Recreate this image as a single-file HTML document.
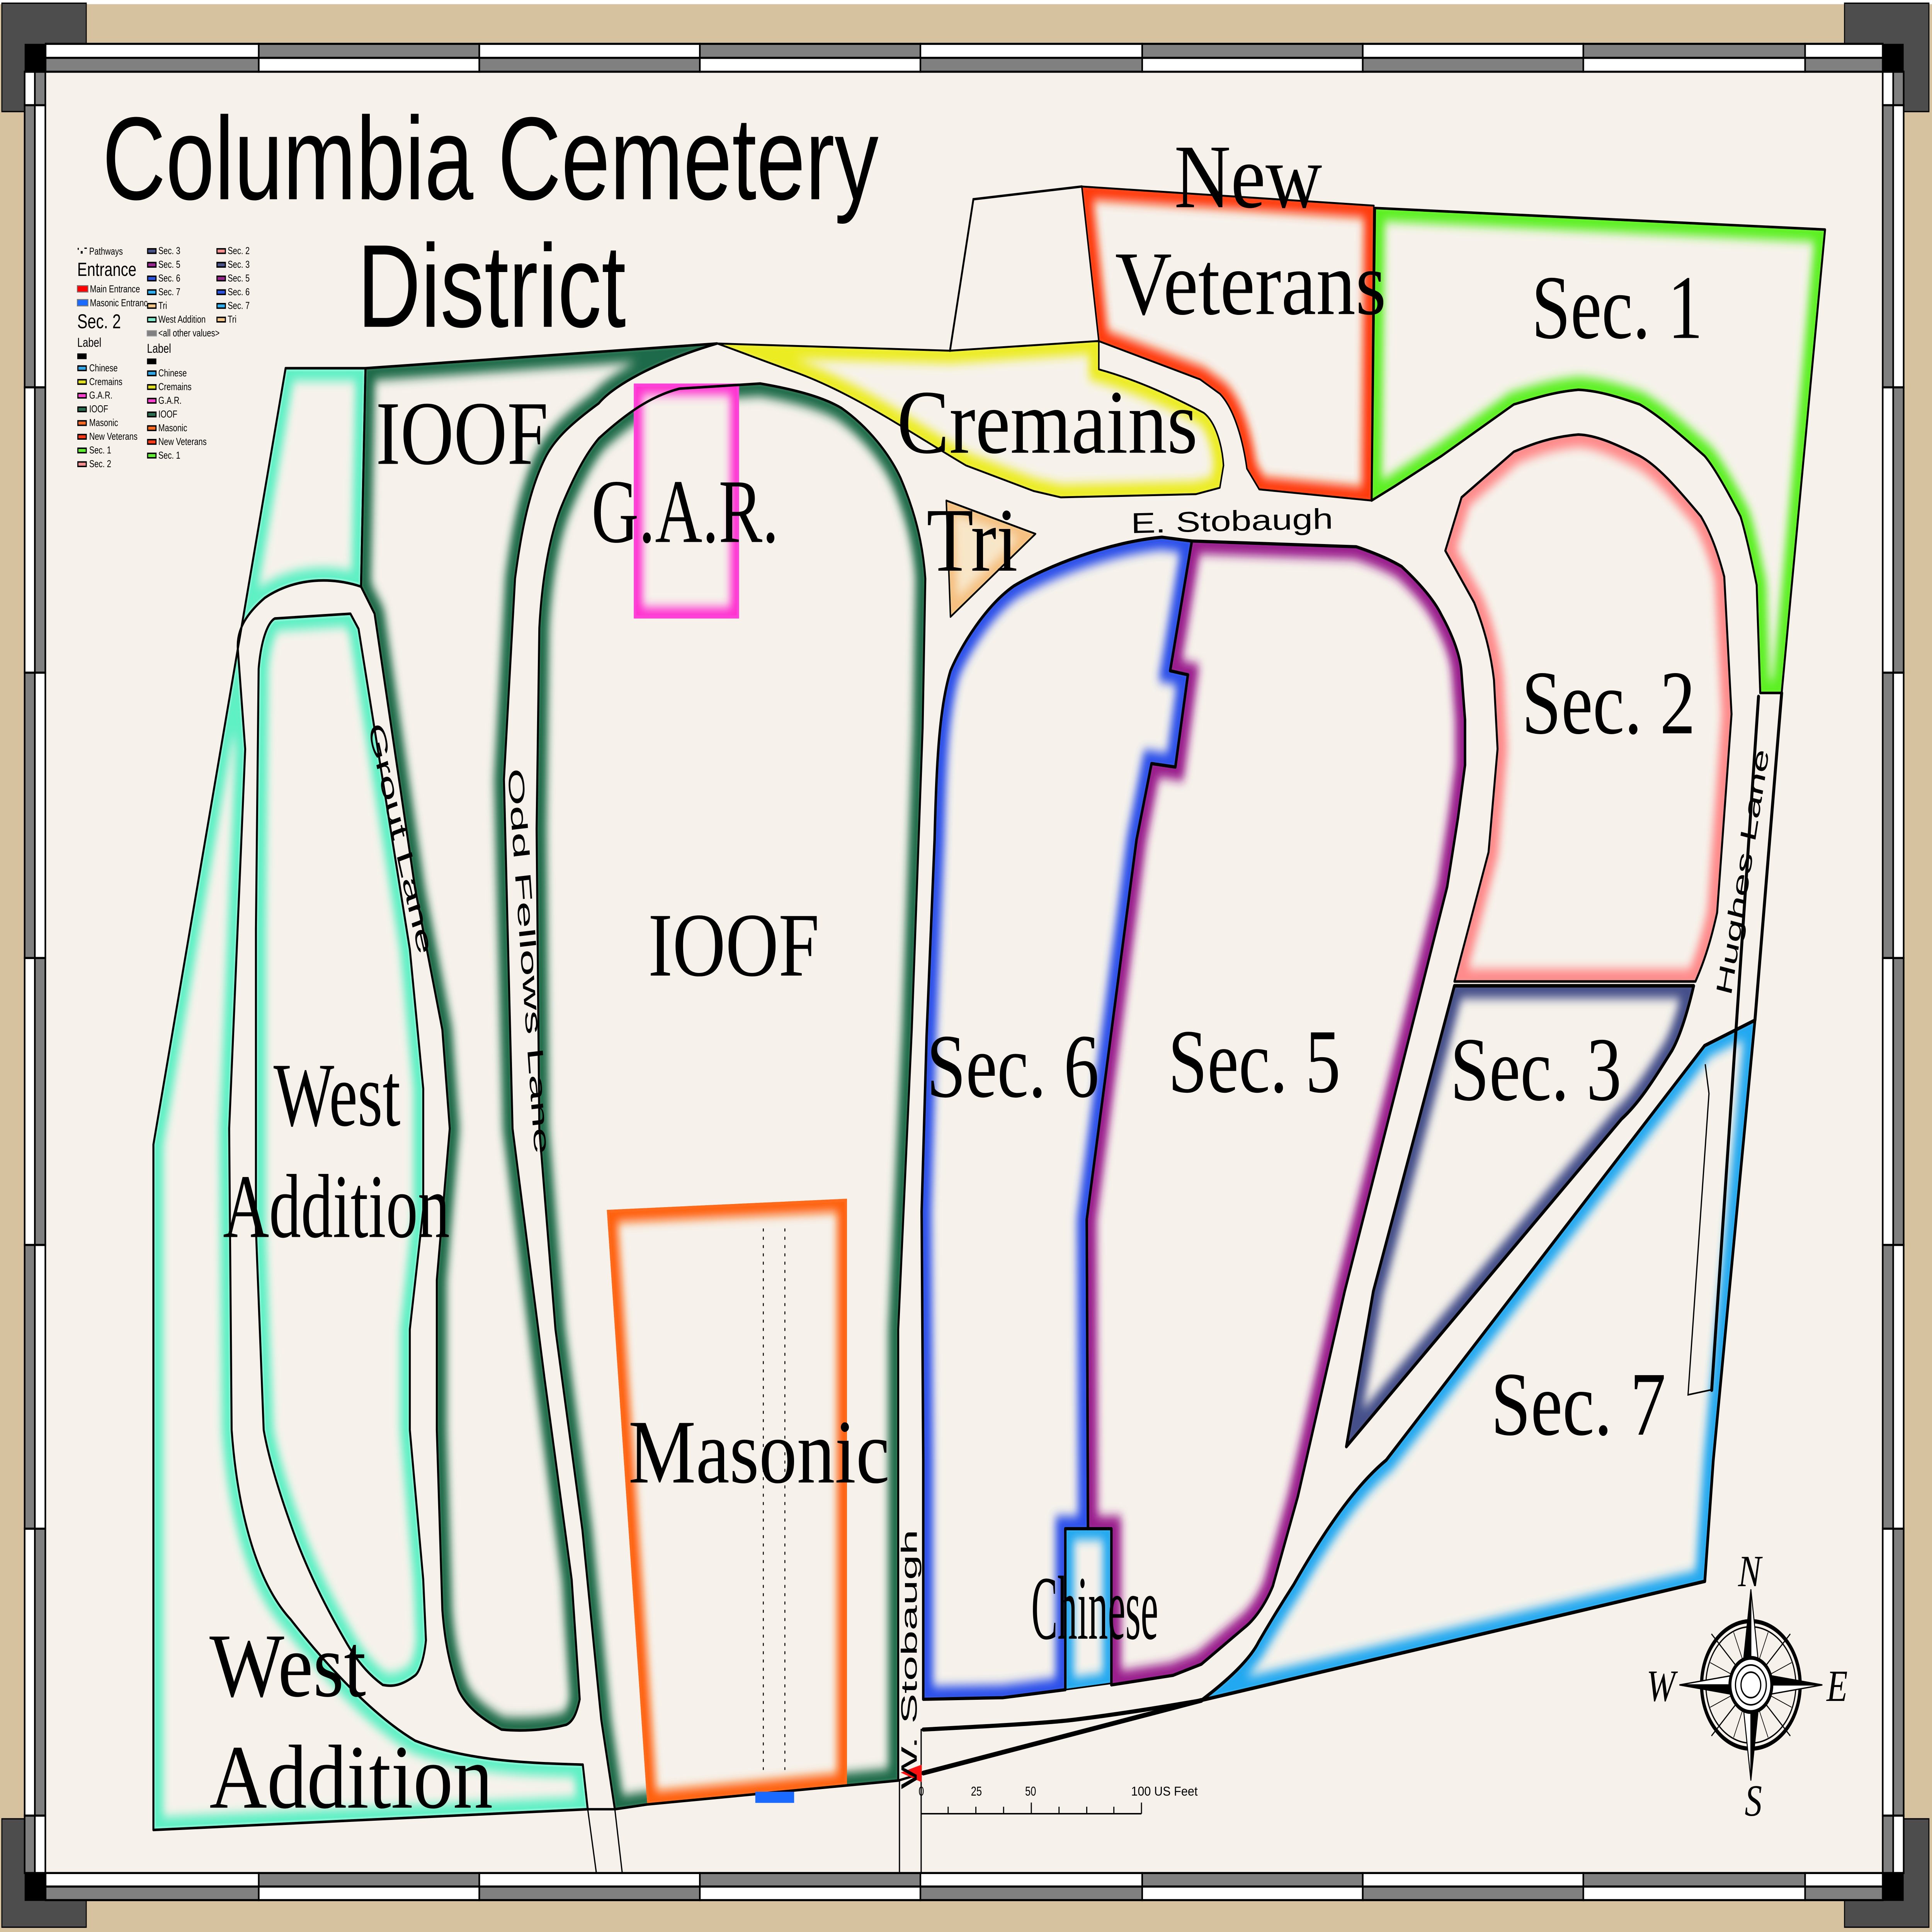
<!DOCTYPE html>
<html><head><meta charset="utf-8"><style>
html,body{margin:0;padding:0;background:#d7c29f;width:100%;height:100%;overflow:hidden;}
svg{display:block;width:100vw;height:100vh;}
.sf{font-family:"Liberation Serif",serif;}
.ss{font-family:"Liberation Sans",sans-serif;}
</style></head><body>
<svg xmlns="http://www.w3.org/2000/svg" xmlns:xlink="http://www.w3.org/1999/xlink" viewBox="0 0 1568 1212" preserveAspectRatio="none">
<defs>
<filter id="b" x="-20%" y="-20%" width="140%" height="140%"><feGaussianBlur stdDeviation="3.2"/></filter>
<path id="pWA" d="M231.8,231 L296.6,231 L293,368 C270,362 240,362 215,375 C200,385 192,395 193,407 L199,470 L186,708 L188,897 C192,940 205,990 236,1016 C260,1040 300,1075 337,1092 C380,1105 430,1106 473,1107 L477,1135 L124.5,1148 L124.5,718 Z"/>
<path id="pWI" d="M209.9,419.6 C212,400 218,390 223,388 L284.4,385 L291,394.5 L332.6,595.5 L343.5,683 L343.5,759 L332.6,834 L332.6,897 L343.5,991 L345.7,1029 C344,1042 340,1049 337,1051 C325,1058 318,1058 310.7,1057 C298,1050 288,1040 280,1029 C262,1005 250,985 240.5,966 C228,940 218,915 214,897 L207.7,771 L207.7,583 Z"/>
<path id="pIB" d="M296.6,231 L582,215.5 C540,225 500,240 486,253 C465,265 450,275 442,288 C428,310 422,340 418,363 L409,489 L416,708 L442,865 L464,991 L470.5,1066 C468,1075 465,1080 459.6,1082 C440,1086 420,1086 407,1085 C390,1078 378,1070 372,1060 C365,1045 361,1030 359,1010 L354.5,897 L354.5,803 L365,708 L359,646 L337,558 L304,385 L293,368 Z"/>
<path id="pIC" d="M437.7,394 C440,360 447,335 455,319 C465,300 475,285 486,275 C510,258 530,248 551.6,243.8 L617,240.6 C650,245 670,250 683,256 C705,268 722,285 731,300 C742,320 749,340 751,363 L748.8,457 L740,646 L729,834 L729,1117 L525,1132 L499,1135 L488,1079 L472.7,960 L450.8,834 L437.7,708 L435.5,520 Z"/>
<path id="pGAR" d="M514.4,240.6 L599.8,240.6 L599.8,388 L514.4,388 Z"/>
<path id="pMas" d="M492.5,759 L687.4,752 L687.4,1120 L525.3,1132 Z"/>
<path id="pCre" d="M582,215.5 L771,220 L891.8,213.9 L891.8,231.7 C925,238.8 955,250 977,259 C987,265 992,280 993,292 L990,306 L970.6,310 L861,312 L838.8,308 L784,292 C740,272 690,245 640,232 C615,225 595,219 582,215.5 Z"/>
<path id="pTri" d="M768,314 L840.4,334.9 L771.4,387 Z"/>
<path id="pNV" d="M878,117 L1115,129 L1113,314 L1022,307 L1012,294 C1008,272 1000,255 990,247 L974,238 L891.8,214 Z"/>
<path id="pS1" d="M1116,130.5 L1481.2,144 L1446,434.7 L1428.6,434.7 L1425.7,367 C1420,345 1415,330 1412.6,324 C1400,305 1390,292 1383.4,286 C1360,270 1345,260 1330.8,253.7 C1310,248 1295,245 1281,244.5 C1260,246 1245,250 1228.6,253.7 L1170,286 L1132,305 L1113.2,314 Z"/>
<path id="pS2" d="M1186.2,312 L1173,345.5 L1196.4,378 C1205,395 1210,410 1212.5,426.6 L1215.4,469.8 L1208.1,534.6 L1180.4,615.7 L1376,615.7 C1385,600 1390,585 1393.6,572.5 L1405.3,448 L1399.4,361.8 C1392,340 1385,330 1380.5,324 C1360,305 1345,292 1330.8,286 C1310,278 1295,273 1281,272.6 C1260,274 1245,278 1228.6,283.4 Z"/>
<path id="pS3" d="M1180.4,618.4 L1374.6,618.4 C1368,640 1362,652 1357,659 C1340,680 1330,692 1316,702 L1092.7,907.5 L1114.6,810 Z"/>
<path id="pS7" d="M1383.4,656 L1424.3,640 L1390.5,916 L1383.6,992 L975,1066.7 C1000,1052 1015,1040 1021.5,1030 C1035,1012 1045,1000 1050,994 C1075,960 1100,932 1125,916 Z"/>
<path id="pS6" d="M967.3,339.4 L943,337 C900,340 850,355 822.8,367.6 C800,380 780,405 771.4,420.8 C762,445 760,480 758.5,526.8 L752,650 L748,760 L749.3,916 L749.3,1066 L814,1065 L864.6,1060 L864.6,959 L883,959 L882,765 L922.4,526.8 L934.6,479 L953.9,481.2 L964.1,423.3 L949.7,420.8 Z"/>
<path id="pS5" d="M967.3,339.4 L1100.7,343 C1120,348 1130,352 1137.6,355.4 C1155,368 1165,378 1170,386 C1180,400 1185,412 1186,420.8 L1189,451.5 L1189,480 L1183.3,513 L1174.5,556.3 L1132.2,686 L1091.3,810.2 L1053.3,938.8 L1033,995 C1025,1010 1015,1018 1010,1021 L975,1044 L952,1051 L902,1057 L902,959 L883,959 L882,765 L922.4,526.8 L934.6,479 L953.9,481.2 L964.1,423.3 L949.7,420.8 Z"/>
<path id="pCh" d="M864.6,959 L902,959 L902,1056 L864.6,1060 Z"/>
<clipPath id="cWA"><use xlink:href="#pWA"/></clipPath>
<clipPath id="cWI"><use xlink:href="#pWI"/></clipPath>
<clipPath id="cIB"><use xlink:href="#pIB"/></clipPath>
<clipPath id="cIC"><use xlink:href="#pIC"/></clipPath>
<clipPath id="cGAR"><use xlink:href="#pGAR"/></clipPath>
<clipPath id="cMas"><use xlink:href="#pMas"/></clipPath>
<clipPath id="cCre"><use xlink:href="#pCre"/></clipPath>
<clipPath id="cTri"><use xlink:href="#pTri"/></clipPath>
<clipPath id="cNV"><use xlink:href="#pNV"/></clipPath>
<clipPath id="cS1"><use xlink:href="#pS1"/></clipPath>
<clipPath id="cS2"><use xlink:href="#pS2"/></clipPath>
<clipPath id="cS3"><use xlink:href="#pS3"/></clipPath>
<clipPath id="cS7"><use xlink:href="#pS7"/></clipPath>
<clipPath id="cS6"><use xlink:href="#pS6"/></clipPath>
<clipPath id="cS5"><use xlink:href="#pS5"/></clipPath>
<clipPath id="cCh"><use xlink:href="#pCh"/></clipPath>
</defs>

<rect x="0" y="0" width="1568" height="1212" fill="#d7c29f"/>
<rect x="0" y="0" width="1568" height="2.6" fill="#ffffff"/>
<g fill="#4d4d4d" stroke="#000" stroke-width="0.8">
<rect x="1.5" y="2" width="68.5" height="68"/>
<rect x="1497" y="2" width="68.5" height="68"/>
<rect x="1.5" y="1141" width="68.5" height="68"/>
<rect x="1497" y="1141" width="68.5" height="68"/>
</g>
<rect x="36.8" y="45" width="1491.5" height="1130" fill="#f6f2eb"/>

<g>
<use xlink:href="#pWA" fill="#f6f2eb"/>
<g clip-path="url(#cWA)"><use xlink:href="#pWA" fill="none" stroke="#5ef0c4" stroke-width="16" filter="url(#b)"/><use xlink:href="#pWA" fill="none" stroke="#7ff5d4" stroke-width="4"/></g>
<use xlink:href="#pWI" fill="#f6f2eb"/>
<g clip-path="url(#cWI)"><use xlink:href="#pWI" fill="none" stroke="#5ef0c4" stroke-width="16" filter="url(#b)"/><use xlink:href="#pWI" fill="none" stroke="#7ff5d4" stroke-width="4"/></g>
<use xlink:href="#pIB" fill="#f6f2eb"/>
<g clip-path="url(#cIB)"><use xlink:href="#pIB" fill="none" stroke="#1f6a48" stroke-width="16" filter="url(#b)"/><use xlink:href="#pIB" fill="none" stroke="#2a7452" stroke-width="4"/></g>
<use xlink:href="#pIC" fill="#f6f2eb"/>
<g clip-path="url(#cIC)"><use xlink:href="#pIC" fill="none" stroke="#1f6a48" stroke-width="16" filter="url(#b)"/><use xlink:href="#pIC" fill="none" stroke="#2a7452" stroke-width="4"/></g>
<use xlink:href="#pGAR" fill="#f6f2eb"/>
<g clip-path="url(#cGAR)"><use xlink:href="#pGAR" fill="none" stroke="#ff30d0" stroke-width="14" filter="url(#b)"/><use xlink:href="#pGAR" fill="none" stroke="#ff40d8" stroke-width="4"/></g>
<use xlink:href="#pMas" fill="#f6f2eb"/>
<g clip-path="url(#cMas)"><use xlink:href="#pMas" fill="none" stroke="#ff6010" stroke-width="16" filter="url(#b)"/><use xlink:href="#pMas" fill="none" stroke="#ff6a1a" stroke-width="4"/></g>
<use xlink:href="#pCre" fill="#f6f2eb"/>
<g clip-path="url(#cCre)"><use xlink:href="#pCre" fill="none" stroke="#ecec20" stroke-width="16" filter="url(#b)"/><use xlink:href="#pCre" fill="none" stroke="#eeee30" stroke-width="4"/></g>
<use xlink:href="#pTri" fill="#f8e6c8"/>
<g clip-path="url(#cTri)"><use xlink:href="#pTri" fill="none" stroke="#f5c080" stroke-width="12" filter="url(#b)"/><use xlink:href="#pTri" fill="none" stroke="#f5c888" stroke-width="3"/></g>
<use xlink:href="#pNV" fill="#f6f2eb"/>
<g clip-path="url(#cNV)"><use xlink:href="#pNV" fill="none" stroke="#ff3a10" stroke-width="16" filter="url(#b)"/><use xlink:href="#pNV" fill="none" stroke="#ff4418" stroke-width="4"/></g>
<use xlink:href="#pS1" fill="#f6f2eb"/>
<g clip-path="url(#cS1)"><use xlink:href="#pS1" fill="none" stroke="#5cf020" stroke-width="16" filter="url(#b)"/><use xlink:href="#pS1" fill="none" stroke="#66f22a" stroke-width="4"/></g>
<use xlink:href="#pS2" fill="#f6f2eb"/>
<g clip-path="url(#cS2)"><use xlink:href="#pS2" fill="none" stroke="#ff8a8a" stroke-width="16" filter="url(#b)"/><use xlink:href="#pS2" fill="none" stroke="#f89090" stroke-width="4"/></g>
<use xlink:href="#pS3" fill="#f6f2eb"/>
<g clip-path="url(#cS3)"><use xlink:href="#pS3" fill="none" stroke="#45508a" stroke-width="16" filter="url(#b)"/><use xlink:href="#pS3" fill="none" stroke="#4a5488" stroke-width="4"/></g>
<use xlink:href="#pS7" fill="#f6f2eb"/>
<g clip-path="url(#cS7)"><use xlink:href="#pS7" fill="none" stroke="#20a8f0" stroke-width="16" filter="url(#b)"/><use xlink:href="#pS7" fill="none" stroke="#30b0f0" stroke-width="4"/></g>
<use xlink:href="#pS6" fill="#f6f2eb"/>
<g clip-path="url(#cS6)"><use xlink:href="#pS6" fill="none" stroke="#2a50ea" stroke-width="16" filter="url(#b)"/><use xlink:href="#pS6" fill="none" stroke="#3358e8" stroke-width="4"/></g>
<use xlink:href="#pS5" fill="#f6f2eb"/>
<g clip-path="url(#cS5)"><use xlink:href="#pS5" fill="none" stroke="#9a1c8c" stroke-width="16" filter="url(#b)"/><use xlink:href="#pS5" fill="none" stroke="#9a2490" stroke-width="4"/></g>
<use xlink:href="#pCh" fill="#f6f2eb"/>
<g clip-path="url(#cCh)"><use xlink:href="#pCh" fill="none" stroke="#20a8f0" stroke-width="14" filter="url(#b)"/><use xlink:href="#pCh" fill="none" stroke="#30b0f0" stroke-width="4"/></g>
</g>
<g fill="none" stroke="#000" stroke-width="1.6" stroke-linejoin="round">
<use xlink:href="#pWA"/><use xlink:href="#pWI"/><use xlink:href="#pIB"/><use xlink:href="#pIC"/>
<use xlink:href="#pCre" stroke-width="1.2"/><use xlink:href="#pTri" stroke-width="1.2"/><use xlink:href="#pNV" stroke-width="1.2"/>
<use xlink:href="#pS1"/><use xlink:href="#pS2"/><use xlink:href="#pS3" stroke-width="2.2"/>
<use xlink:href="#pS7" stroke-width="2.2"/><use xlink:href="#pS6" stroke-width="2"/><use xlink:href="#pS5" stroke-width="2"/><use xlink:href="#pCh" stroke-width="1"/>
</g>
<g fill="none" stroke="#000" stroke-linecap="round">
<path d="M1427.2,437 L1389.2,872" stroke-width="2.4"/>
<path d="M1446,434.7 L1424.3,640" stroke-width="2.4"/>
<path d="M1384,668 L1387,686 L1370,875 L1388,872" stroke-width="1"/>
<path d="M771,220 L790,125 L878,117" stroke-width="1.5"/>
<path d="M749.3,1085 C800,1083 848,1081 870,1079 C912,1075 950,1070 975,1066.7" stroke-width="2.6"/>
<path d="M749.3,1112.3 L975,1066.7" stroke-width="3"/>
<path d="M477,1135 L499,1135 M729,1117 L749.3,1112.3" stroke-width="1.5"/>
<path d="M477,1135 L484,1175 M499,1135 L505,1175" stroke-width="1"/>
<path d="M730,1117 L730,1175 M747.6,1085 L747.6,1175" stroke-width="1"/>
<path d="M619.5,771 L619.5,1110 M637,771 L637,1110" stroke-width="0.8" stroke-dasharray="1.2 4"/>
</g>
<polygon points="731,1112 748,1107 748,1118" fill="#ff1010"/>
<rect x="613" y="1124" width="31.5" height="7" fill="#1a6aff"/>

<g stroke="#000" stroke-width="0.9" fill="none">
<path d="M747.6,1137.8 L926.4,1137.8"/>
<path d="M769.5,1133.4V1137.8 M792,1133.4V1137.8 M814.5,1133.4V1137.8 M837,1130.8V1137.8 M859.5,1133.4V1137.8 M882,1133.4V1137.8 M904,1133.4V1137.8 M926.4,1130.8V1137.8"/>
</g>
<g class="ss" font-size="8" fill="#000">
<text x="745.5" y="1126.4">0</text>
<text x="788" y="1126.4">25</text>
<text x="832" y="1126.4">50</text>
<text x="918" y="1126.4" textLength="54" lengthAdjust="spacingAndGlyphs">100 US Feet</text>
</g>

<g transform="translate(1421,1057)">
<circle r="40" fill="none" stroke="#000" stroke-width="2.6"/>
<circle r="36.5" fill="none" stroke="#000" stroke-width="0.9"/>
<g stroke="#000" stroke-width="0.5">
<path d="M0,-36 L0,36 M-36,0 L36,0 M-25,-25 L25,25 M25,-25 L-25,25 M-14,-33 L14,33 M14,-33 L-14,33 M-33,-14 L33,14 M33,-14 L-33,14"/>
</g>
<g stroke="#000" stroke-width="0.8">
<polygon points="0,0 -6,-6 -32,-32" fill="#000"/><polygon points="0,0 6,-6 32,-32" fill="#fff"/>
<polygon points="0,0 6,6 32,32" fill="#000"/><polygon points="0,0 -6,6 -32,32" fill="#fff"/>
<polygon points="0,0 -8,0 0,-60" fill="#000"/><polygon points="0,0 8,0 0,-60" fill="#fff"/>
<polygon points="0,0 8,0 0,60" fill="#000"/><polygon points="0,0 -8,0 0,60" fill="#fff"/>
<polygon points="0,0 0,-8 58,0" fill="#000"/><polygon points="0,0 0,8 58,0" fill="#fff"/>
<polygon points="0,0 0,8 -58,0" fill="#000"/><polygon points="0,0 0,-8 -58,0" fill="#fff"/>
</g>
<circle r="17" fill="#fff" stroke="#000" stroke-width="2.4"/>
<circle r="12.5" fill="#fff" stroke="#000" stroke-width="1"/>
<circle r="8" fill="#fff" stroke="#000" stroke-width="1"/>
<g class="sf" font-style="italic" font-size="28" fill="#000" text-anchor="middle">
<text x="-1" y="-62">N</text>
<text x="2" y="82">S</text>
<text x="-73" y="10">W</text>
<text x="70" y="10">E</text>
</g>
</g>

<g class="ss" fill="#000">
<text x="83" y="125" font-size="74" textLength="630" lengthAdjust="spacingAndGlyphs">Columbia Cemetery</text>
<text x="290" y="205" font-size="74" textLength="218" lengthAdjust="spacingAndGlyphs">District</text>
</g>

<g class="sf" fill="#000" font-size="57">
<text x="953" y="130" textLength="120" lengthAdjust="spacingAndGlyphs">New</text>
<text x="905" y="197" textLength="220" lengthAdjust="spacingAndGlyphs">Veterans</text>
<text x="1243" y="212" textLength="139" lengthAdjust="spacingAndGlyphs">Sec. 1</text>
<text x="728" y="284" textLength="244" lengthAdjust="spacingAndGlyphs">Cremains</text>
<text x="305" y="291" textLength="140" lengthAdjust="spacingAndGlyphs">IOOF</text>
<text x="480" y="340" textLength="152" lengthAdjust="spacingAndGlyphs">G.A.R.</text>
<text x="752" y="358" textLength="74" lengthAdjust="spacingAndGlyphs">Tri</text>
<text x="1235" y="460" textLength="141" lengthAdjust="spacingAndGlyphs">Sec. 2</text>
<text x="526" y="612" textLength="139" lengthAdjust="spacingAndGlyphs">IOOF</text>
<text x="752" y="688" textLength="140" lengthAdjust="spacingAndGlyphs">Sec. 6</text>
<text x="948" y="685" textLength="140" lengthAdjust="spacingAndGlyphs">Sec. 5</text>
<text x="1177" y="690" textLength="139" lengthAdjust="spacingAndGlyphs">Sec. 3</text>
<text x="222" y="706" textLength="103" lengthAdjust="spacingAndGlyphs">West</text>
<text x="181" y="776" textLength="184" lengthAdjust="spacingAndGlyphs">Addition</text>
<text x="510" y="930" textLength="212" lengthAdjust="spacingAndGlyphs">Masonic</text>
<text x="1210" y="900" textLength="142" lengthAdjust="spacingAndGlyphs">Sec. 7</text>
<text x="837" y="1028" textLength="103" lengthAdjust="spacingAndGlyphs">Chinese</text>
<text x="170" y="1064" textLength="127" lengthAdjust="spacingAndGlyphs">West</text>
<text x="170" y="1134" textLength="230" lengthAdjust="spacingAndGlyphs">Addition</text>
</g>
<g class="ss" fill="#000" font-size="18" text-anchor="middle">
<text x="1000" y="333" textLength="164" lengthAdjust="spacingAndGlyphs" transform="rotate(-1 1000 333)">E. Stobaugh</text>
<text x="0" y="6" textLength="243" lengthAdjust="spacingAndGlyphs" transform="translate(429,603) rotate(84.8)">Odd Fellows Lane</text>
<text x="0" y="6" textLength="150" lengthAdjust="spacingAndGlyphs" transform="translate(325,526) rotate(73.9)">Grout Lane</text>
<text x="0" y="6" textLength="157" lengthAdjust="spacingAndGlyphs" transform="translate(1414.5,547) rotate(-78.6)">Hughes Lane</text>
<text x="0" y="6" textLength="163" lengthAdjust="spacingAndGlyphs" transform="translate(738,1041) rotate(-90)">W. Stobaugh</text>
</g>

<g class="ss" fill="#000" font-size="6.3">
<rect x="63" y="155.5" width="1" height="1.2"/><rect x="65.5" y="157.5" width="1.6" height="1.6"/><rect x="68.5" y="155.3" width="2" height="0.8"/>
<text x="72.4" y="159.8">Pathways</text>
<text x="62.7" y="173.1" font-size="12">Entrance</text>
<rect x="62.7" y="179.2" width="8.7" height="4" fill="#ff0000" stroke="#777" stroke-width="0.6"/><text x="73" y="183.4">Main Entrance</text>
<rect x="62.7" y="187.9" width="8.7" height="4" fill="#1a6aff" stroke="#777" stroke-width="0.6"/><text x="73" y="192.1">Masonic Entranc</text>
<text x="62.7" y="205.9" font-size="12.5">Sec. 2</text>
<text x="62.7" y="217.6" font-size="8">Label</text>
<rect x="62.7" y="221.7" width="7.6" height="3.6"/>
<g stroke="#000" stroke-width="0.9">
<rect x="63.2" y="229.6" width="6.8" height="2.8" fill="#30a8e8"/>
<rect x="63.2" y="238.2" width="6.8" height="2.8" fill="#e0e020"/>
<rect x="63.2" y="246.8" width="6.8" height="2.8" fill="#ff40d0"/>
<rect x="63.2" y="255.4" width="6.8" height="2.8" fill="#2a7050"/>
<rect x="63.2" y="264" width="6.8" height="2.8" fill="#ff6a20"/>
<rect x="63.2" y="272.6" width="6.8" height="2.8" fill="#ff3a18"/>
<rect x="63.2" y="281.2" width="6.8" height="2.8" fill="#60f030"/>
<rect x="63.2" y="289.8" width="6.8" height="2.8" fill="#f89090"/>
</g>
<text x="72.4" y="232.9">Chinese</text>
<text x="72.4" y="241.5">Cremains</text>
<text x="72.4" y="250.1">G.A.R.</text>
<text x="72.4" y="258.7">IOOF</text>
<text x="72.4" y="267.3">Masonic</text>
<text x="72.4" y="275.9">New Veterans</text>
<text x="72.4" y="284.5">Sec. 1</text>
<text x="72.4" y="293.1">Sec. 2</text>
<g stroke="#000" stroke-width="0.9">
<rect x="119.8" y="156.1" width="6.8" height="2.8" fill="#4a5488"/>
<rect x="119.8" y="164.7" width="6.8" height="2.8" fill="#9a2490"/>
<rect x="119.8" y="173.3" width="6.8" height="2.8" fill="#2d55e0"/>
<rect x="119.8" y="181.9" width="6.8" height="2.8" fill="#30b0f0"/>
<rect x="119.8" y="190.5" width="6.8" height="2.8" fill="#f6c888"/>
<rect x="119.8" y="199.1" width="6.8" height="2.8" fill="#80f0d0"/>
<rect x="119.3" y="207.4" width="7.8" height="3.4" fill="#808080" stroke="#999" stroke-width="0.5"/>
<rect x="119.8" y="232.8" width="6.8" height="2.8" fill="#30a8e8"/>
<rect x="119.8" y="241.4" width="6.8" height="2.8" fill="#e0e020"/>
<rect x="119.8" y="250" width="6.8" height="2.8" fill="#ff40d0"/>
<rect x="119.8" y="258.6" width="6.8" height="2.8" fill="#2a7050"/>
<rect x="119.8" y="267.2" width="6.8" height="2.8" fill="#ff6a20"/>
<rect x="119.8" y="275.8" width="6.8" height="2.8" fill="#ff3a18"/>
<rect x="119.8" y="284.4" width="6.8" height="2.8" fill="#60f030"/>
<rect x="176.1" y="156.1" width="6.8" height="2.8" fill="#f89090"/>
<rect x="176.1" y="164.7" width="6.8" height="2.8" fill="#4a5488"/>
<rect x="176.1" y="173.3" width="6.8" height="2.8" fill="#9a2490"/>
<rect x="176.1" y="181.9" width="6.8" height="2.8" fill="#2d55e0"/>
<rect x="176.1" y="190.5" width="6.8" height="2.8" fill="#30b0f0"/>
<rect x="176.1" y="199.1" width="6.8" height="2.8" fill="#f6c888"/>
</g>
<text x="128.5" y="159.4">Sec. 3</text>
<text x="128.5" y="168">Sec. 5</text>
<text x="128.5" y="176.6">Sec. 6</text>
<text x="128.5" y="185.2">Sec. 7</text>
<text x="128.5" y="193.8">Tri</text>
<text x="128.5" y="202.4">West Addition</text>
<text x="128.5" y="211">&lt;all other values&gt;</text>
<text x="119.3" y="221.3" font-size="8">Label</text>
<rect x="119.3" y="224.9" width="7.6" height="3.6"/>
<text x="128.5" y="236.1">Chinese</text>
<text x="128.5" y="244.7">Cremains</text>
<text x="128.5" y="253.3">G.A.R.</text>
<text x="128.5" y="261.9">IOOF</text>
<text x="128.5" y="270.5">Masonic</text>
<text x="128.5" y="279.1">New Veterans</text>
<text x="128.5" y="287.7">Sec. 1</text>
<text x="184.8" y="159.4">Sec. 2</text>
<text x="184.8" y="168">Sec. 3</text>
<text x="184.8" y="176.6">Sec. 5</text>
<text x="184.8" y="185.2">Sec. 6</text>
<text x="184.8" y="193.8">Sec. 7</text>
<text x="184.8" y="202.4">Tri</text>
</g>

<g stroke="#000" stroke-width="1.3">
<rect x="37" y="27.5" width="173" height="8.8" fill="#fff"/><rect x="210" y="27.5" width="179" height="8.8" fill="#808080"/>
<rect x="389" y="27.5" width="179" height="8.8" fill="#fff"/><rect x="568" y="27.5" width="179" height="8.8" fill="#808080"/>
<rect x="747" y="27.5" width="180" height="8.8" fill="#fff"/><rect x="927" y="27.5" width="179" height="8.8" fill="#808080"/>
<rect x="1106" y="27.5" width="179" height="8.8" fill="#fff"/><rect x="1285" y="27.5" width="180" height="8.8" fill="#808080"/>
<rect x="1465" y="27.5" width="63" height="8.8" fill="#fff"/>
<rect x="37" y="36.3" width="173" height="8.7" fill="#808080"/><rect x="210" y="36.3" width="179" height="8.7" fill="#fff"/>
<rect x="389" y="36.3" width="179" height="8.7" fill="#808080"/><rect x="568" y="36.3" width="179" height="8.7" fill="#fff"/>
<rect x="747" y="36.3" width="180" height="8.7" fill="#808080"/><rect x="927" y="36.3" width="179" height="8.7" fill="#fff"/>
<rect x="1106" y="36.3" width="179" height="8.7" fill="#808080"/><rect x="1285" y="36.3" width="180" height="8.7" fill="#fff"/>
<rect x="1465" y="36.3" width="63" height="8.7" fill="#808080"/>
<rect x="37" y="1175" width="173" height="8.5" fill="#fff"/><rect x="210" y="1175" width="179" height="8.5" fill="#808080"/>
<rect x="389" y="1175" width="179" height="8.5" fill="#fff"/><rect x="568" y="1175" width="179" height="8.5" fill="#808080"/>
<rect x="747" y="1175" width="180" height="8.5" fill="#fff"/><rect x="927" y="1175" width="179" height="8.5" fill="#808080"/>
<rect x="1106" y="1175" width="179" height="8.5" fill="#fff"/><rect x="1285" y="1175" width="180" height="8.5" fill="#808080"/>
<rect x="1465" y="1175" width="63" height="8.5" fill="#fff"/>
<rect x="37" y="1183.5" width="173" height="8.5" fill="#808080"/><rect x="210" y="1183.5" width="179" height="8.5" fill="#fff"/>
<rect x="389" y="1183.5" width="179" height="8.5" fill="#808080"/><rect x="568" y="1183.5" width="179" height="8.5" fill="#fff"/>
<rect x="747" y="1183.5" width="180" height="8.5" fill="#808080"/><rect x="927" y="1183.5" width="179" height="8.5" fill="#fff"/>
<rect x="1106" y="1183.5" width="179" height="8.5" fill="#808080"/><rect x="1285" y="1183.5" width="180" height="8.5" fill="#fff"/>
<rect x="1465" y="1183.5" width="63" height="8.5" fill="#808080"/>
<rect x="20" y="45" width="8.3" height="21" fill="#fff"/><rect x="28.3" y="45" width="8.5" height="21" fill="#808080"/>
<rect x="20" y="66" width="8.3" height="177" fill="#808080"/><rect x="28.3" y="66" width="8.5" height="177" fill="#fff"/>
<rect x="20" y="243" width="8.3" height="179" fill="#fff"/><rect x="28.3" y="243" width="8.5" height="179" fill="#808080"/>
<rect x="20" y="422" width="8.3" height="179" fill="#808080"/><rect x="28.3" y="422" width="8.5" height="179" fill="#fff"/>
<rect x="20" y="601" width="8.3" height="180" fill="#fff"/><rect x="28.3" y="601" width="8.5" height="180" fill="#808080"/>
<rect x="20" y="781" width="8.3" height="178" fill="#808080"/><rect x="28.3" y="781" width="8.5" height="178" fill="#fff"/>
<rect x="20" y="959" width="8.3" height="180" fill="#fff"/><rect x="28.3" y="959" width="8.5" height="180" fill="#808080"/>
<rect x="20" y="1139" width="8.3" height="36" fill="#808080"/><rect x="28.3" y="1139" width="8.5" height="36" fill="#fff"/>
<rect x="1528" y="45" width="8.5" height="21" fill="#fff"/><rect x="1536.5" y="45" width="8.5" height="21" fill="#808080"/>
<rect x="1528" y="66" width="8.5" height="177" fill="#808080"/><rect x="1536.5" y="66" width="8.5" height="177" fill="#fff"/>
<rect x="1528" y="243" width="8.5" height="179" fill="#fff"/><rect x="1536.5" y="243" width="8.5" height="179" fill="#808080"/>
<rect x="1528" y="422" width="8.5" height="179" fill="#808080"/><rect x="1536.5" y="422" width="8.5" height="179" fill="#fff"/>
<rect x="1528" y="601" width="8.5" height="180" fill="#fff"/><rect x="1536.5" y="601" width="8.5" height="180" fill="#808080"/>
<rect x="1528" y="781" width="8.5" height="178" fill="#808080"/><rect x="1536.5" y="781" width="8.5" height="178" fill="#fff"/>
<rect x="1528" y="959" width="8.5" height="180" fill="#fff"/><rect x="1536.5" y="959" width="8.5" height="180" fill="#808080"/>
<rect x="1528" y="1139" width="8.5" height="36" fill="#808080"/><rect x="1536.5" y="1139" width="8.5" height="36" fill="#fff"/>
</g>
<g fill="#000">
<rect x="20" y="27.5" width="17" height="17.5"/>
<rect x="1528" y="27.5" width="17" height="17.5"/>
<rect x="20" y="1175" width="17" height="17.5"/>
<rect x="1528" y="1175" width="17" height="17.5"/>
</g>
</svg>
</body></html>
